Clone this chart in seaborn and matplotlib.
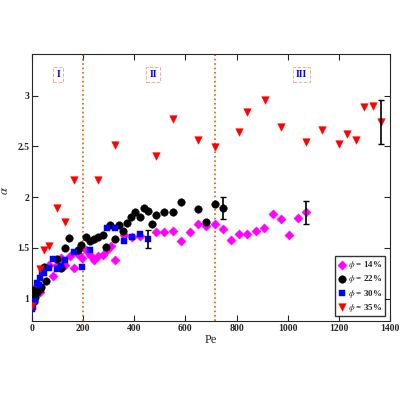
import matplotlib
matplotlib.use("Agg")
import matplotlib.pyplot as plt
import seaborn as sns
import pandas as pd

# phi = 14%
pe14 = [0, 6, 16, 33, 65, 81, 98, 115, 130, 147, 163, 178, 195, 211, 225, 243, 260, 276, 293, 309,
        326, 358, 391, 423, 486, 518, 551, 583, 616, 650, 681, 714, 746, 778, 811, 842, 876, 909,
        941, 974, 1006, 1039, 1072]
a14 = [0.95, 1.03, 1.11, 1.07, 1.33, 1.22, 1.33, 1.40, 1.33, 1.42, 1.30, 1.44, 1.40, 1.48, 1.43, 1.38,
       1.42, 1.43, 1.48, 1.52, 1.38, 1.63, 1.61, 1.62, 1.66, 1.66, 1.67, 1.57, 1.66, 1.74, 1.72, 1.74,
       1.69, 1.58, 1.64, 1.64, 1.67, 1.70, 1.83, 1.78, 1.63, 1.79, 1.85]
# phi = 22%
pe22 = [0, 3, 6, 13, 20, 30, 37, 46, 56, 98, 113, 128, 146, 178, 193, 211, 225, 241, 260, 276, 290,
        306, 326, 341, 355, 371, 388, 404, 421, 438, 453, 470, 486, 518, 551, 583, 650, 681, 714, 746]
a22 = [1.00, 1.09, 0.98, 1.02, 1.07, 1.10, 1.11, 1.31, 1.17, 1.39, 1.30, 1.50, 1.60, 1.48, 1.53, 1.61,
       1.57, 1.59, 1.61, 1.63, 1.51, 1.73, 1.59, 1.73, 1.67, 1.75, 1.80, 1.85, 1.80, 1.89, 1.86, 1.74,
       1.82, 1.85, 1.85, 1.95, 1.88, 1.76, 1.93, 1.89]
# phi = 30%
pe30 = [0, 3, 13, 20, 26, 33, 40, 48, 65, 81, 98, 115, 130, 163, 195, 228, 293, 326, 358, 391, 423, 453]
a30 = [0.90, 0.92, 0.98, 1.15, 1.13, 1.20, 1.26, 1.25, 1.30, 1.39, 1.29, 1.32, 1.38, 1.46, 1.31, 1.48,
       1.70, 1.70, 1.57, 1.61, 1.64, 1.59]
# phi = 35%
pe35 = [0, 33, 48, 65, 98, 130, 163, 260, 326, 486, 551, 650, 714, 811, 842, 910, 974, 1072, 1135,
        1202, 1233, 1267, 1298, 1332, 1365]
a35 = [0.93, 1.29, 1.48, 1.52, 1.89, 1.76, 2.17, 2.17, 2.51, 2.41, 2.77, 2.56, 2.49, 2.64, 2.84, 2.96,
       2.69, 2.54, 2.66, 2.52, 2.62, 2.56, 2.89, 2.90, 2.74]

# representative error bars (last point of each series)
err_pe = [1072, 746, 453, 1365]
err_a = [1.85, 1.89, 1.59, 2.74]
err_size = [0.11, 0.11, 0.09, 0.22]

region_pe = [200, 714]
region_labels = ["I", "II", "III"]
region_label_pe = [102, 473, 1054]

series = [
    (r"$\phi$ = 14%", pe14, a14, "magenta", "D"),
    (r"$\phi$ = 22%", pe22, a22, "black", "o"),
    (r"$\phi$ = 30%", pe30, a30, "blue", "s"),
    (r"$\phi$ = 35%", pe35, a35, "red", "v"),
]

sns.set_style("ticks")
plt.rcParams["font.family"] = ["Liberation Serif", "DejaVu Serif"]
plt.rcParams["mathtext.fontset"] = "stix"

fig = plt.figure(figsize=(4, 4), dpi=100)
ax = fig.add_axes([0.08, 0.1975, 0.895, 0.6675])

for label, x, y, c, m in series:
    df = pd.DataFrame({"Pe": x, "a": y})
    size = 22 if m in ("D", "s") else 30
    sns.scatterplot(data=df, x="Pe", y="a", ax=ax, color=c, marker=m, s=size,
                    edgecolor=c, linewidth=0.3, label=label, zorder=3)

ax.errorbar(err_pe, err_a, yerr=err_size, fmt="none", ecolor="black",
            elinewidth=1.2, capsize=2.5, zorder=4)

for p in region_pe:
    ax.axvline(p, color="#e06000", linestyle=":", linewidth=1.2, zorder=2)

for t, p in zip(region_labels, region_label_pe):
    ax.text(p, 3.21, t, color="blue", fontsize=7, fontweight="bold", ha="center", va="center",
            bbox=dict(boxstyle="square,pad=0.3", facecolor="white",
                      edgecolor="#f0b090", linestyle="--", linewidth=0.7))

ax.set_xlim(0, 1400)
ax.set_ylim(0.78, 3.41)
ax.set_xticks([0, 200, 400, 600, 800, 1000, 1200, 1400])
ax.set_yticks([1, 1.5, 2, 2.5, 3])
ax.set_yticklabels(["1", "1.5", "2", "2.5", "3"])
ax.tick_params(direction="in", top=True, right=True, labelsize=7, length=4, pad=2)
for lbl in ax.get_xticklabels() + ax.get_yticklabels():
    lbl.set_fontweight("bold")
ax.set_xlabel("Pe", fontsize=9, labelpad=1)
ax.set_ylabel(r"$\alpha^*$", fontsize=9)
ax.yaxis.set_label_coords(-0.055, 0.5)
for s in ax.spines.values():
    s.set_linewidth(0.8)

leg = ax.legend(loc="lower right", frameon=True, fancybox=False,
                edgecolor="black", handletextpad=0.2, borderpad=0.3, labelspacing=0.25,
                handlelength=1.0, prop={"weight": "bold", "size": 6.5})
leg.get_frame().set_linewidth(1.0)

fig.savefig("out.png", dpi=100)
